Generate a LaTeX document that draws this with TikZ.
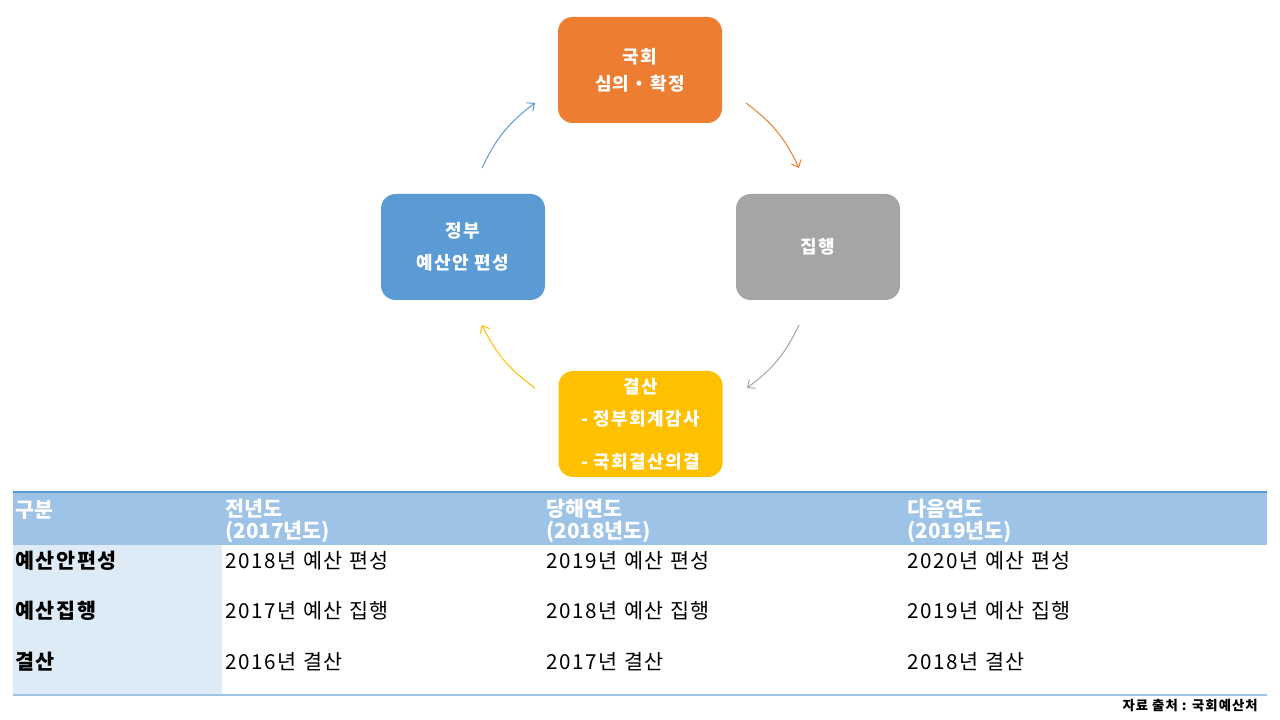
\documentclass[tikz,border=0pt]{standalone}
\usepackage{fontspec}
\setmainfont[LetterSpace=8]{Noto Sans CJK KR}
\newfontfamily\hdrfont{Noto Sans CJK KR}
\usetikzlibrary{arrows.meta}
\definecolor{corange}{HTML}{ED7D31}
\definecolor{cgray}{HTML}{A5A5A5}
\definecolor{cyellow}{HTML}{FFC000}
\definecolor{cblue}{HTML}{5B9BD5}
\definecolor{hdrblue}{HTML}{9DC3E6}
\definecolor{colblue}{HTML}{DDEBF7}
\begin{document}
\begin{tikzpicture}[x=0.75pt,y=0.75pt,
  box/.style={rounded corners=11pt, minimum width=123pt, minimum height=79.5pt,
    inner sep=0pt, text=white, align=center, font=\fontsize{13.5}{20.25}\selectfont\bfseries},
  cyc/.style={line width=0.75pt, -{Straight Barb[length=4.5pt,width=8pt]}},
  hdr/.style={anchor=west, inner sep=0pt, text=white, align=left,
    font=\hdrfont\fontsize{15.5}{16.5}\selectfont\bfseries},
  rowlab/.style={anchor=west, inner sep=0pt, font=\fontsize{15.5}{18}\selectfont\bfseries},
  cell/.style={anchor=west, inner sep=0pt, font=\fontsize{15.5}{18}\selectfont},
  note/.style={anchor=east, inner sep=0pt, font=\fontsize{10}{12}\selectfont\bfseries}]
\useasboundingbox (0,0) rectangle (1280,720);
% cycle boxes
\node[box, fill=corange] (gukhoe) at (640,650) {국회\\심의・확정};
\node[box, fill=cgray] (jiphaeng) at (818,473) {집행};
\node[box, fill=cyellow, font=\fontsize{13.5}{24}\selectfont\bfseries] (gyeolsan) at (640.5,296)
  {결산\\- 정부회계감사\\[8.25pt]- 국회결산의결};
\node[box, fill=cblue, font=\fontsize{13.5}{24}\selectfont\bfseries] (jeongbu) at (463,473) {정부\\예산안 편성};
% arrow end points
\coordinate (b1) at (482,552); \coordinate (b2) at (535,617);
\coordinate (o1) at (746,617); \coordinate (o2) at (799,552);
\coordinate (g1) at (799,395); \coordinate (g2) at (747,332);
\coordinate (y1) at (535,332); \coordinate (y2) at (482,395);
\draw[cyc, cblue] (b1) to[bend left=14] (b2);
\draw[cyc, corange] (o1) to[bend left=14] (o2);
\draw[cyc, cgray] (g1) to[bend left=14] (g2);
\draw[cyc, cyellow] (y1) to[bend left=14] (y2);
% table
\fill[hdrblue] (13,175) rectangle (1267,228);
\fill[colblue] (13,25) rectangle (222,175);
\draw[cblue, line width=1.1pt] (13,228) -- (1267,228);
\draw[hdrblue, line width=1.5pt] (13,25) -- (1267,25);
\node[hdr] (h0) at (15,210) {구분};
\node[hdr] (h1) at (225,199) {전년도\\(2017년도)};
\node[hdr] (h2) at (546,199) {당해연도\\(2018년도)};
\node[hdr] (h3) at (907,199) {다음연도\\(2019년도)};
\node[rowlab] (r1) at (15,159) {예산안편성};
\node[rowlab] (r2) at (15,109) {예산집행};
\node[rowlab] (r3) at (15,58) {결산};
\node[cell] (c11) at (225,159) {2018년 예산 편성};
\node[cell] (c12) at (546,159) {2019년 예산 편성};
\node[cell] (c13) at (907,159) {2020년 예산 편성};
\node[cell] (c21) at (225,109) {2017년 예산 집행};
\node[cell] (c22) at (546,109) {2018년 예산 집행};
\node[cell] (c23) at (907,109) {2019년 예산 집행};
\node[cell] (c31) at (225,58) {2016년 결산};
\node[cell] (c32) at (546,58) {2017년 결산};
\node[cell] (c33) at (907,58) {2018년 결산};
\node[note] (src) at (1258,14) {자료 출처 : 국회예산처};
\end{tikzpicture}
\end{document}
